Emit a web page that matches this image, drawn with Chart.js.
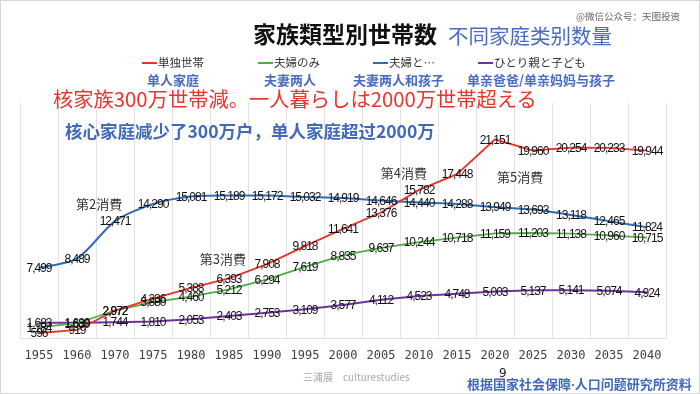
<!DOCTYPE html>
<html>
<head>
<meta charset="utf-8">
<script src="https://cdn.jsdelivr.net/npm/chart.js@4.4.1/dist/chart.umd.min.js"></script>
<style>
    html, body { margin: 0; padding: 0; background: #fff; }
    #khung { position: relative; width: 700px; height: 394px; overflow: hidden; background: #fff; }
    #khung canvas { position: absolute; left: 0; top: 0; }
    .chu { position: absolute; white-space: nowrap; }
    .jp { font-family: "Noto Sans CJK JP", "Noto Sans", sans-serif; }
    .sc { font-family: "Noto Sans CJK SC", "Noto Sans", sans-serif; }
    #vien { position: absolute; left: 0; top: 0; width: 698px; height: 392px; border: 1px solid #d6d6d6; pointer-events: none; }
    .chuGiai { position: absolute; top: 54px; height: 16px; line-height: 16px; font-size: 11.5px; color: #333; }
    .chuGiai i { display: inline-block; width: 15px; height: 2px; vertical-align: middle; margin-right: 1px; position: relative; top: -1px; }
    .tenTQ { position: absolute; top: 71px; line-height: 18px; font-size: 13px; font-weight: bold; color: #4a6cc0; white-space: nowrap; }
</style>
</head>
<body>
<div id="khung">
    <canvas id="chartSetai" width="700" height="394"></canvas>

    <div class="chu jp" style="left:253px;top:18px;line-height:30px;font-size:23px;font-weight:bold;color:#111;">家族類型別世帯数</div>
    <div class="chu sc" style="left:448px;top:20px;line-height:30px;font-size:20.5px;color:#4a6cc0;">不同家庭类别数量</div>
    <div class="chu sc" style="left:576px;top:9px;line-height:14px;font-size:9.5px;color:#666;">@微信公众号：天图投资</div>

    <div id="chuGiaiSetai"></div>

    <div class="chu sc" style="left:53px;top:84px;line-height:28px;font-size:20.3px;color:#e8352c;">核家族300万世帯減。一人暮らしは2000万世帯超える</div>
    <div class="chu sc" style="left:65px;top:119px;line-height:24px;font-size:17.5px;font-weight:bold;color:#4169b8;">核心家庭减少了300万户，单人家庭超过2000万</div>

    <div class="chu sc" style="left:303px;top:370px;line-height:14px;font-size:10px;color:#a8a8a8;">三浦展　culturestudies</div>
    <div class="chu" style="left:499px;top:365px;line-height:16px;font-size:12px;color:#222;font-family:'DejaVu Sans';">9</div>
    <div class="chu sc" style="left:467px;top:375px;line-height:18px;font-size:13px;font-weight:bold;color:#4169b8;">根据国家社会保障<span style="font-family:'Noto Sans';">·</span>人口问题研究所资料</div>

    <div id="vien"></div>
</div>

<script>
    // so lieu (nghin ho)
    var namLabels = ['1955', '1960', '1970', '1975', '1980', '1985', '1990', '1995', '2000',
        '2005', '2010', '2015', '2020', '2025', '2030', '2035', '2040'];

    var tenLoaiHo = ['単独世帯', '夫婦のみ', '夫婦と…', 'ひとり親と子ども'];
    var tenLoaiHoTQ = ['单人家庭', '夫妻两人', '夫妻两人和孩子', '单亲爸爸/单亲妈妈与孩子'];

    var donThan = [596, 919, 2972, 4236, 5388, 6393, 7908, 9818, 11641,
        13376, 15782, 17448, 21151, 19960, 20254, 20233, 19944];
    var voChong = [1184, 1630, 2972, 3880, 4460, 5212, 6294, 7619, 8835,
        9637, 10244, 10718, 11159, 11203, 11138, 10960, 10715];
    var voChongCon = [7499, 8489, 12471, 14290, 15081, 15189, 15172, 15032, 14919,
        14646, 14440, 14288, 13949, 13693, 13118, 12465, 11824];
    var chaMeDon = [1683, 1689, 1744, 1810, 2053, 2403, 2753, 3109, 3577,
        4112, 4523, 4748, 5003, 5137, 5141, 5074, 4924];

    var ghiChuTieuDung = ['第2消費', '第3消費', '第4消費', '第5消費'];
    var ghiChuViTri = [1.58, 4.84, 9.6, 12.66];
    var ghiChuGiaTri = [14300, 8400, 17600, 17100];

    var mauDuong = ['#e8352c', '#52ab47', '#2f6cb5', '#7030a0'];
    var chuGiaiX = [142, 258, 373, 478];
    var tenTQX = [147, 264, 353, 467];

    // chu giai (legend)
    var htmlString = '';
    tenLoaiHo.forEach(function (ten, i) {
        htmlString += `<div class="chuGiai jp" style="left:${chuGiaiX[i]}px"><i style="background:${mauDuong[i]}"></i>${ten}</div>`;
        htmlString += `<div class="tenTQ sc" style="left:${tenTQX[i]}px">${tenLoaiHoTQ[i]}</div>`;
    });
    document.getElementById('chuGiaiSetai').innerHTML = htmlString;

    var nhanDuLieu = {
        id: 'nhanDuLieu',
        afterDatasetsDraw: function (chart) {
            var ctx = chart.ctx;
            ctx.save();
            ctx.font = '12px "Liberation Sans", sans-serif';
            ctx.letterSpacing = '-1px';
            ctx.fillStyle = '#111';
            ctx.textAlign = 'center';
            ctx.textBaseline = 'middle';
            chart.data.datasets.forEach(function (ds, i) {
                chart.getDatasetMeta(i).data.forEach(function (pt, j) {
                    var v = ds.data[j];
                    if (v == null) return;
                    ctx.fillText(v.toLocaleString('en-US'), pt.x, pt.y + 1);
                });
            });

            // ghi chu cac giai doan tieu dung
            var x = chart.scales.x, y = chart.scales.y;
            ctx.letterSpacing = '0px';
            ctx.font = '13px "Noto Sans CJK JP", sans-serif';
            ctx.fillStyle = '#333';
            ghiChuTieuDung.forEach(function (t, i) {
                ctx.fillText(t, x.getPixelForValue(ghiChuViTri[i]), y.getPixelForValue(ghiChuGiaTri[i]));
            });
            ctx.restore();
        }
    };

    var $chartSetai = document.getElementById('chartSetai').getContext('2d');
    var $objChartSetai = new Chart($chartSetai, {
        type: 'line',
        data: {
            labels: namLabels,
            datasets: [
                { label: tenLoaiHo[0], data: donThan, borderColor: mauDuong[0], borderWidth: 1.8, tension: 0 },
                { label: tenLoaiHo[1], data: voChong, borderColor: mauDuong[1], borderWidth: 1.8, tension: 0 },
                { label: tenLoaiHo[2], data: voChongCon, borderColor: mauDuong[2], borderWidth: 2, tension: 0.25 },
                { label: tenLoaiHo[3], data: chaMeDon, borderColor: mauDuong[3], borderWidth: 2, tension: 0 }
            ]
        },
        options: {
            responsive: false,
            animation: false,
            elements: { point: { radius: 0, hoverRadius: 0 } },
            layout: { padding: { left: 20, right: 34, top: 103, bottom: 21 } },
            plugins: {
                legend: { display: false },
                title: { display: false },
                tooltip: { enabled: false }
            },
            scales: {
                x: {
                    offset: true,
                    grid: { offset: true, color: '#e2e2e2', lineWidth: 1, drawTicks: false },
                    border: { color: '#e2e2e2' },
                    ticks: {
                        padding: 10,
                        color: '#404040',
                        font: { family: 'DejaVu Sans Mono', size: 12 },
                        maxRotation: 0,
                        autoSkip: false
                    }
                },
                y: {
                    display: false,
                    min: 0,
                    max: 25000
                }
            }
        },
        plugins: [nhanDuLieu]
    });
</script>
</body>
</html>
